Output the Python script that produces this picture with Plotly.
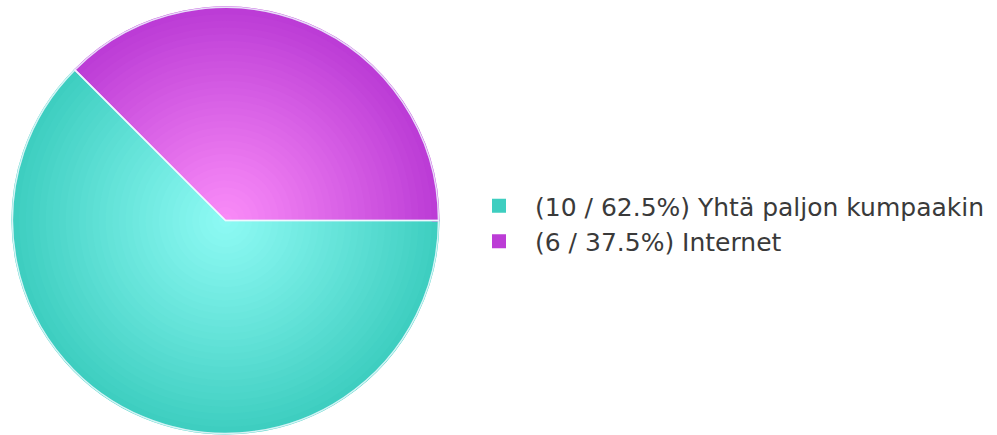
import plotly.graph_objects as go

names = ["Yhtä paljon kumpaakin", "Internet"]
values = [10, 6]
edge_colors = [(62, 206, 192), (188, 60, 214)]
center_colors = [(142, 250, 244), (250, 140, 248)]

total = sum(values)
labels = [f"({v} / {v / total * 100:.1f}%) {n}" for n, v in zip(names, values)]

W, H = 997, 435
cx, cy, R = 225.5, 220.5, 213.0
N = 32


def mix(c0, c1, t):
    return "rgb(%d,%d,%d)" % tuple(round(a + (b - a) * t) for a, b in zip(c0, c1))


def domain(r):
    return dict(x=[(cx - r) / W, (cx + r) / W],
                y=[(H - cy - r) / H, (H - cy + r) / H])


fig = go.Figure()
for i in range(N):
    frac = 1 - i / N
    r = R * frac
    t = frac ** 1.1
    cols = [mix(c, e, t) for c, e in zip(center_colors, edge_colors)]
    fig.add_trace(go.Pie(
        labels=labels, values=values, sort=False, direction="clockwise",
        rotation=90, textinfo="none", hoverinfo="label",
        domain=domain(r),
        marker=dict(colors=cols,
                    line=dict(color=cols if i == 0 else "rgba(0,0,0,0)",
                              width=2 if i == 0 else 0)),
        showlegend=(i == 0),
    ))

# separator lines on top
fig.add_trace(go.Pie(
    labels=labels, values=values, sort=False, direction="clockwise",
    rotation=90, textinfo="none", hoverinfo="skip", domain=domain(R),
    marker=dict(colors=["rgba(0,0,0,0)", "rgba(0,0,0,0)"],
                line=dict(color="rgba(240,250,255,0.85)", width=1.5)),
    showlegend=False,
))

fig.update_layout(
    width=W, height=H,
    margin=dict(l=0, r=0, t=0, b=0),
    paper_bgcolor="white", plot_bgcolor="white",
    legend=dict(x=463 / W, xanchor="left", y=(H - 223.5) / H, yanchor="middle",
                itemwidth=62,
                font=dict(family="DejaVu Sans", size=25, color="#3a3a3a"),
                bgcolor="rgba(0,0,0,0)"),
)

fig.write_html("out.html")
